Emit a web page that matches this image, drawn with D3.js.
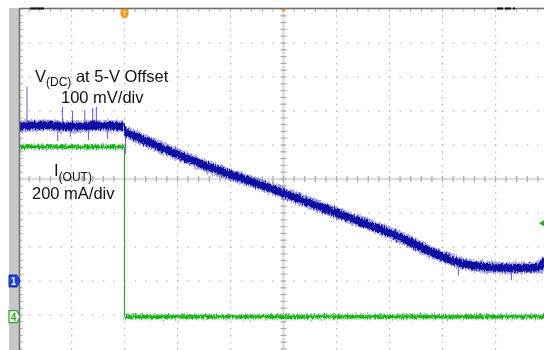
<!DOCTYPE html>
<html lang="en">
<head>
  <meta charset="UTF-8">
  <title>Scope capture</title>
  <script src="https://d3js.org/d3.v7.min.js"></script>
  <style>
    body { margin: 0; background: #fff; }
    svg { display: block; font-family: "Liberation Sans", Arial, sans-serif; }
  </style>
</head>
<body>
  <div id="root"></div>
  <script>
    // data, time in screen divisions (10 div across)
    const vTime = [0, 0.5, 1.0, 1.5, 2.0, 2.02, 3.4, 5.0, 6.0, 7.2, 7.96, 8.5, 9.2, 9.8, 9.95, 10]
    const vOut = [455, 458, 454, 457, 455, 438, 347, 259, 200, 129, 74, 47, 38, 39, 55, 50] // mV above 5-V offset
    const vSpikeTime = [0.16, 0.74, 0.83, 0.98, 1.02, 1.25, 1.32, 1.40, 1.47, 1.68, 2.02, 9.3, 8.3]
    const vSpikeVal = [571, 412, 512, 424, 500, 503, 415, 509, 512, 418, 374, 2, 16]

    const iTime = [0, 1.0, 2.0, 2.01, 5.0, 10]
    const iOut = [1.0, 1.0, 1.0, 0, 0, 0] // A

    const ch1Pos = -3.0   // div, ground marker of V(DC)
    const ch4Pos = -4.05  // div, ground marker of I(OUT)
    const mVPerDiv = 100
    const APerDiv = 0.2

    const width = 544, height = 350
    const svg = d3.select('#root').append('svg')
      .attr('width', width).attr('height', height)

    // scales in divisions
    const x = d3.scaleLinear().domain([0, 10]).range([18.5, 548.5])
    const y = d3.scaleLinear().domain([-5, 5]).range([349, 9])

    const defs = svg.append('defs')
    defs.append('clipPath').attr('id', 'clip').append('rect')
      .attr('x', 19).attr('y', 9).attr('width', width - 19).attr('height', height - 9)
    // rough edge for the noisy traces
    const rough = defs.append('filter').attr('id', 'rough')
      .attr('x', '-2%').attr('y', '-20%').attr('width', '104%').attr('height', '140%')
    rough.append('feTurbulence').attr('type', 'fractalNoise').attr('baseFrequency', '0.9 0.25')
      .attr('numOctaves', 2).attr('seed', 3).attr('result', 'n')
    rough.append('feDisplacementMap').attr('in', 'SourceGraphic').attr('in2', 'n')
      .attr('scale', 6).attr('xChannelSelector', 'R').attr('yChannelSelector', 'G')

    const plot = svg.append('g').attr('clip-path', 'url(#clip)')

    const minorX = d3.range(0, 10.001, 0.2)
    const minorY = d3.range(-5, 5.001, 0.2)

    // center crosshair
    plot.append('line').attr('x1', x(5)).attr('x2', x(5)).attr('y1', y(5)).attr('y2', y(-5))
      .attr('stroke', '#dedede').attr('stroke-width', 2.5)
    plot.append('line').attr('x1', x(0)).attr('x2', x(10)).attr('y1', y(0)).attr('y2', y(0))
      .attr('stroke', '#dedede').attr('stroke-width', 2.5)
    plot.selectAll('.cty').data(minorY).enter().append('line')
      .attr('x1', x(5) - 3).attr('x2', x(5) + 3).attr('y1', d => y(d)).attr('y2', d => y(d))
      .attr('stroke', '#a8a8a8').attr('stroke-width', 1.2)
    plot.selectAll('.ctx').data(minorX).enter().append('line')
      .attr('x1', d => x(d)).attr('x2', d => x(d)).attr('y1', y(0) - 3).attr('y2', y(0) + 3)
      .attr('stroke', '#a8a8a8').attr('stroke-width', 1.2)

    // dotted grid
    const majorX = d3.range(1, 10).filter(d => d !== 5)
    const majorY = d3.range(-4, 5).filter(d => d !== 0)
    majorX.forEach(k => {
      plot.selectAll(null).data(minorY).enter().append('rect')
        .attr('x', x(k) - 0.5).attr('y', d => y(d) - 0.5).attr('width', 1.2).attr('height', 1.5)
        .attr('fill', '#b4b4b4')
    })
    majorY.forEach(k => {
      plot.selectAll(null).data(minorX).enter().append('rect')
        .attr('x', d => x(d) - 0.5).attr('y', y(k) - 0.5).attr('width', 1.5).attr('height', 1.2)
        .attr('fill', '#b4b4b4')
    })
    // border ticks
    plot.selectAll('.bt').data(minorX).enter().append('line')
      .attr('x1', d => x(d)).attr('x2', d => x(d)).attr('y1', 9).attr('y2', 12)
      .attr('stroke', '#b0b0b0')
    plot.selectAll('.bl').data(minorY).enter().append('line')
      .attr('x1', 19).attr('x2', 23).attr('y1', d => y(d)).attr('y2', d => y(d))
      .attr('stroke', '#b0b0b0')

    // traces
    const vy = v => y(ch1Pos + v / mVPerDiv)
    const iy = a => y(ch4Pos + a / APerDiv)
    const vData = vTime.map((t, i) => [t, vOut[i]])
    const iData = iTime.map((t, i) => [t, iOut[i]])
    const stepAt = 2.0

    // current: two flat runs and a thin falling edge
    const iLine = d3.line().x(d => x(d[0])).y(d => iy(d[1]))
    const iRuns = [iData.filter(d => d[0] <= stepAt), iData.filter(d => d[0] > stepAt)]
    const ig = plot.append('g').attr('filter', 'url(#rough)')
    ig.selectAll('.ih').data(iRuns).enter().append('path').attr('d', iLine)
      .attr('fill', 'none').attr('stroke', '#86d686').attr('stroke-width', 5.5).attr('opacity', 0.8)
    ig.selectAll('.ic').data(iRuns).enter().append('path').attr('d', iLine)
      .attr('fill', 'none').attr('stroke', '#18b018').attr('stroke-width', 3)
    plot.append('line').attr('x1', x(stepAt)).attr('x2', x(stepAt)).attr('y1', iy(1.0)).attr('y2', iy(0))
      .attr('stroke', '#3f9a3f').attr('stroke-width', 1.2)

    // voltage
    const vLine = d3.line().x(d => x(d[0])).y(d => vy(d[1])).curve(d3.curveMonotoneX)
    const vRuns = [vData.filter(d => d[0] <= stepAt), vData.filter(d => d[0] > stepAt)]
    plot.selectAll('.spk').data(vSpikeTime).enter().append('line')
      .attr('x1', d => x(d)).attr('x2', d => x(d))
      .attr('y1', (d, i) => vy(vSpikeVal[i]))
      .attr('y2', d => vy(d3.scaleLinear().domain(vTime).range(vOut)(d)))
      .attr('stroke', '#6a6ac8').attr('stroke-width', 1.1)
    const vg = plot.append('g').attr('filter', 'url(#rough)')
    vg.selectAll('.vh').data(vRuns).enter().append('path').attr('d', vLine)
      .attr('fill', 'none').attr('stroke', '#5656c4').attr('stroke-width', 11.5).attr('opacity', 0.55)
    vg.selectAll('.vc').data(vRuns).enter().append('path').attr('d', vLine)
      .attr('fill', 'none').attr('stroke', '#0808a4').attr('stroke-width', 7.5)
    plot.append('line').attr('x1', x(stepAt) + 1).attr('x2', x(stepAt) + 1)
      .attr('y1', vy(vOut[4])).attr('y2', vy(vOut[5]))
      .attr('stroke', '#0808a4').attr('stroke-width', 2)

    // frame
    svg.append('rect').attr('x', 9).attr('y', 8).attr('width', 10).attr('height', height - 8)
      .attr('fill', '#c8c8c8')
    svg.append('line').attr('x1', 19).attr('x2', width).attr('y1', 8.5).attr('y2', 8.5)
      .attr('stroke', '#6e6e6e').attr('stroke-width', 1.5)
    svg.append('line').attr('x1', 19.5).attr('x2', 19.5).attr('y1', 8).attr('y2', height)
      .attr('stroke', '#6e6e6e').attr('stroke-width', 1.5)
    svg.append('line').attr('x1', 30).attr('x2', 44).attr('y1', 8.5).attr('y2', 8.5)
      .attr('stroke', '#111').attr('stroke-width', 2)
    svg.append('line').attr('x1', 497).attr('x2', 515).attr('y1', 8.5).attr('y2', 8.5)
      .attr('stroke', '#111').attr('stroke-width', 2).attr('stroke-dasharray', '6,2')

    // markers
    const trig = svg.append('g').attr('transform', `translate(${x(2)},9)`)
    trig.append('path').attr('d', 'M-4,0 H4 V6 L2,9 H-2 L-4,6 Z').attr('fill', '#f39a1e')
    trig.append('text').text('T').attr('x', 0).attr('y', 7).attr('text-anchor', 'middle')
      .attr('font-size', 7).attr('fill', '#fff')
    svg.append('path').attr('d', `M${x(5) - 3},9 H${x(5) + 3} L${x(5)},12 Z`).attr('fill', '#f39a1e')

    const m1 = svg.append('g').attr('transform', `translate(9,${y(ch1Pos)})`)
    m1.append('path').attr('d', 'M0,-6 H8 L11,0 L8,6 H0 Z').attr('fill', '#1d3fe0').attr('stroke', '#1530b0')
    m1.append('text').text('1').attr('x', 4.5).attr('y', 4).attr('text-anchor', 'middle')
      .attr('font-size', 10).attr('font-weight', 'bold').attr('fill', '#fff')
    const m4 = svg.append('g').attr('transform', `translate(9,${y(ch4Pos)})`)
    m4.append('path').attr('d', 'M0,-6 H8 L11,0 L8,6 H0 Z').attr('fill', '#fff').attr('stroke', '#2aa82a').attr('stroke-width', 1.3)
    m4.append('text').text('4').attr('x', 4.5).attr('y', 4).attr('text-anchor', 'middle')
      .attr('font-size', 10).attr('font-weight', 'bold').attr('fill', '#2aa82a')
    svg.append('path').attr('d', `M${width},${y(-1.3) - 3} V${y(-1.3) + 3} L${width - 5},${y(-1.3)} Z`)
      .attr('fill', '#2aa82a')

    // labels
    const lab = svg.append('g').attr('fill', '#111').attr('font-size', 16.5)
    const t1 = lab.append('text').attr('x', 35).attr('y', 82)
    t1.append('tspan').text('V')
    t1.append('tspan').text('(DC)').attr('font-size', 12).attr('dy', 4)
    t1.append('tspan').text(' at 5-V Offset').attr('dy', -4)
    lab.append('text').attr('x', 61).attr('y', 103).text('100 mV/div')
    const t2 = lab.append('text').attr('x', 54).attr('y', 176)
    t2.append('tspan').text('I')
    t2.append('tspan').text('(OUT)').attr('font-size', 12).attr('dy', 5)
    lab.append('text').attr('x', 32).attr('y', 199).text('200 mA/div')
  </script>
</body>
</html>
